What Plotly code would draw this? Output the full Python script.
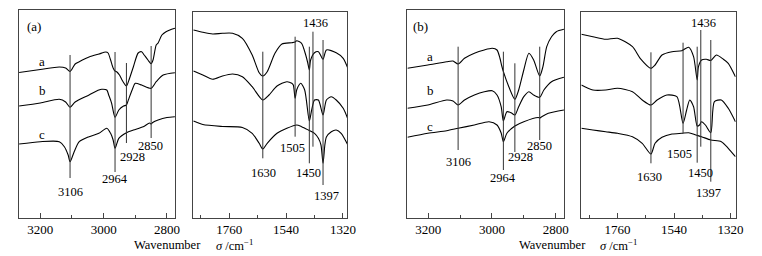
import plotly.graph_objects as go

# ---------------- data: (a) high wavenumber region ----------------
A1_WN_a = [3267,3200,3140,3120,3106,3090,3077,3046,3015,2993,2986,2978,2970,2964,2958,2950,2940,2928,2920,2906,2891,2880,2872,2860,2850,2844,2834,2828,2816,2803,2791,2775]
A1_T_a = [145.5,148.5,151,150,146.5,154,156.3,161,164,166,165,158,150,147,146,143,137,132,138,151.3,165,166.3,163,158,154.3,158,173,175,183,186.3,188,189.7]
A1_WN_b = [3267,3200,3140,3120,3106,3090,3046,3015,3006,2990,2984,2975,2964,2952,2937,2928,2922,2910,2900,2880,2850,2834,2812,2775]
A1_T_b = [112,115,118.7,116,110.7,116,123,128,128.7,128,123,115,100.7,108,112,113,118,128,134.7,133,129.7,136.3,143,145.3]
A1_WN_c = [3267,3200,3140,3124,3112,3106,3093,3077,3046,3015,2990,2978,2970,2964,2952,2928,2906,2875,2855,2850,2845,2828,2800,2775]
A1_T_c = [74,76.3,76.3,71.3,63,56.3,66.3,76.3,81.3,84.7,89.7,84.7,78,69.7,79.7,85.3,88,91.3,95,94,95.5,98,100.5,101.3]
A1_PEAKS = [3106, 2964, 2928, 2850]

# ---------------- data: (a) low wavenumber region ----------------
A2_WN_a = [1898,1862,1824,1786,1747,1709,1671,1644,1630,1613,1583,1556,1518,1505,1499,1480,1464,1456,1450,1445,1430,1415,1397,1384,1346,1319,1301]
A2_T_a = [188,185.7,184,184.7,184.7,179.7,163,145.3,142,146.3,164.7,174,175.3,176,177.3,174.7,163,155,148,158,165.3,166.3,158.7,168,165.3,159.7,149.7]
A2_WN_b = [1898,1862,1824,1786,1747,1709,1671,1630,1606,1575,1537,1518,1512,1505,1499,1490,1483,1468,1450,1441,1430,1415,1397,1384,1365,1346,1319,1301]
A2_T_b = [147,143,138.7,142,144,141.3,131.3,118,123,132,136.3,134.7,133,119.7,128,133,134.7,128,97,108,118,118,103,118,121.3,118,109.7,99]
A2_WN_c = [1898,1862,1786,1709,1671,1644,1630,1613,1575,1537,1499,1480,1454,1430,1415,1405,1397,1390,1384,1365,1346,1327,1301]
A2_T_c = [97,93.5,91.5,90.5,84.7,74.7,69,74.7,84.7,89.7,93,91.3,88,84.7,79.7,73,54.7,73,81,86.3,88,84.7,73]
A2_PEAKS = [1630, 1505, 1450, 1436, 1397]

# ---------------- data: (b) high wavenumber region ----------------
B1_WN_a = [3265,3201,3142,3122,3106,3086,3055,3024,2999,2984,2975,2969,2964,2947,2928,2916,2900,2884,2869,2850,2840,2828,2813,2798,2774]
B1_T_a = [149.7,153,156.3,157,154,159.7,164.7,168,169.7,168,160,152,146.3,131.3,118.7,128,148,164.7,158,142,151.3,171.3,181.3,186.3,188.7]
B1_WN_b = [3265,3201,3142,3122,3106,3086,3055,3024,2999,2984,2971,2964,2953,2940,2928,2916,2900,2884,2869,2850,2837,2813,2774]
B1_T_b = [109.7,113,118,117,113,118,123,126.3,127.3,123,111.3,97,106.3,105.3,103,111.3,121.3,126.3,123,120.7,128,136.3,140.7]
B1_WN_c = [3265,3201,3142,3106,3055,3009,2984,2971,2964,2953,2928,2900,2855,2850,2845,2823,2774]
B1_T_c = [80.7,84.7,87.3,89.7,93,96.3,93,85,76.3,84.7,92,96.3,100.5,100,101,104.7,108]
B1_PEAKS = [3106, 2964, 2928, 2850]

# ---------------- data: (b) low wavenumber region ----------------
B2_WN_a = [1901,1856,1806,1760,1702,1672,1630,1614,1587,1548,1510,1483,1464,1450,1445,1433,1414,1397,1375,1348,1329,1301]
B2_T_a = [183.7,181.3,178.7,179.7,171.3,159.7,149.7,153,163,166.3,167.3,170.7,161.3,138,151.3,158,158.7,157.5,163,158.7,154.7,141.3]
B2_WN_b = [1901,1856,1806,1760,1702,1664,1630,1606,1568,1529,1505,1491,1479,1464,1450,1441,1433,1418,1397,1383,1356,1329,1301]
B2_T_b = [133,128,128,129.7,126.3,118,113,118,123,121.3,94.7,108,118,111.3,92,93,96.3,93,85.3,116.3,118,109.7,96.3]
B2_WN_c = [1901,1856,1806,1760,1702,1664,1630,1614,1587,1548,1510,1483,1455,1433,1397,1356,1329,1301]
B2_T_c = [89.7,88,86.3,84.7,81.3,74.7,64,74.7,80.7,84,84.7,85.3,83,81.3,78,76.3,69.7,61.3]
B2_PEAKS = [1630, 1505, 1450, 1436, 1397]

CURVE_NAMES = ["a", "b", "c"]
HIGH_TICKS = [3200, 3000, 2800]
HIGH_MINOR = [3100, 2900]
LOW_TICKS = [1760, 1540, 1320]
LOW_MINOR = [1870, 1650, 1430]

# ---------------- layout helpers (positions, not data) ----------------
A1_LINE = ([163, 166, 155, 172], [40, 46, 75, 80])
A1_LAB = ([3106, 2964, 2909, 2851], [26.3, 39, 61, 72])
A2_LINE = ([166.3, 181.3, 171.3, 186.3, 178], [59.7, 81.3, 54.7, 71.3, 33])
A2_LAB = ([1626, 1515, 1455, 1425, 1385], [44.7, 69.7, 44.7, 194.7, 22])
B1_LINE = ([171.3, 166.3, 154.7, 171.3], [68, 48, 66, 78])
B1_LAB = ([3106, 2964, 2909, 2851], [55.7, 39.7, 61.3, 72.3])
B2_LINE = ([165.7, 175.3, 171.3, 188, 178], [54.7, 84.7, 55.3, 71.3, 36.3])
B2_LAB = ([1634, 1520, 1437, 1426, 1404], [41.3, 64, 44.7, 194.7, 25.3])

W, H = 762, 256
FONT = "'Liberation Serif', 'Times New Roman', Times, serif"

fig = go.Figure()
annotations = []

panels = [
    ("", [(A1_WN_a, A1_T_a), (A1_WN_b, A1_T_b), (A1_WN_c, A1_T_c)], A1_PEAKS, A1_LINE, A1_LAB,
     [3267, 2774], 19.3, 177.3, 10.3, HIGH_TICKS, HIGH_MINOR),
    ("2", [(A2_WN_a, A2_T_a), (A2_WN_b, A2_T_b), (A2_WN_c, A2_T_c)], A2_PEAKS, A2_LINE, A2_LAB,
     [1900, 1303], 195.3, 351.5, 11.5, LOW_TICKS, LOW_MINOR),
    ("3", [(B1_WN_a, B1_T_a), (B1_WN_b, B1_T_b), (B1_WN_c, B1_T_c)], B1_PEAKS, B1_LINE, B1_LAB,
     [3265, 2774], 412.3, 570.7, 10.3, HIGH_TICKS, HIGH_MINOR),
    ("4", [(B2_WN_a, B2_T_a), (B2_WN_b, B2_T_b), (B2_WN_c, B2_T_c)], B2_PEAKS, B2_LINE, B2_LAB,
     [1901, 1300], 588.3, 744.5, 11.5, LOW_TICKS, LOW_MINOR),
]

BOTTOM_PX = 217.7
for aid, curves, peaks, lines, labs, xr, pl, pr, pt, tv, mv in panels:
    xa, ya = "x" + aid, "y" + aid
    for wn, t in curves:
        fig.add_trace(go.Scatter(x=wn, y=t, mode="lines", xaxis=xa, yaxis=ya,
                                 line=dict(color="black", width=1.1, shape="spline", smoothing=0.7),
                                 hoverinfo="skip", showlegend=False))
    tops, bots = lines
    for p, t0, b0 in zip(peaks, tops, bots):
        fig.add_trace(go.Scatter(x=[p, p], y=[b0, t0], mode="lines", xaxis=xa, yaxis=ya,
                                 line=dict(color="#333333", width=1),
                                 hoverinfo="skip", showlegend=False))
    for p, lx, ly in zip(peaks, labs[0], labs[1]):
        annotations.append(dict(x=lx, y=ly, xref=xa, yref=ya, text=str(p), showarrow=False,
                                xanchor="center", yanchor="middle",
                                font=dict(family=FONT, size=12.5, color="black")))
    dom_x = [pl / W, pr / W]
    dom_y = [1 - BOTTOM_PX / H, 1 - pt / H]
    fig.update_layout(**{
        "xaxis" + aid: dict(domain=dom_x, range=xr, anchor=ya, showgrid=False, zeroline=False,
                            showline=True, mirror=True, linecolor="#444", linewidth=1,
                            tickvals=tv, ticks="inside", ticklen=5, tickcolor="#444",
                            minor=dict(tickvals=mv, ticks="inside", ticklen=2.5, tickcolor="#444"),
                            tickfont=dict(family=FONT, size=13, color="black")),
        "yaxis" + aid: dict(domain=dom_y, range=[0.3, 218 - pt], anchor=xa, showgrid=False,
                            zeroline=False, showline=True, mirror=True, linecolor="#444",
                            linewidth=1, showticklabels=False, ticks=""),
    })

# curve labels a, b, c and panel tags
for nm, ty in zip(CURVE_NAMES, [156.3, 127.3, 84]):
    annotations.append(dict(x=3194, y=ty, xref="x", yref="y", text=nm, showarrow=False,
                            xanchor="center", yanchor="middle",
                            font=dict(family=FONT, size=13, color="black")))
for nm, ty in zip(CURVE_NAMES, [161.3, 127.3, 92]):
    annotations.append(dict(x=3193, y=ty, xref="x3", yref="y3", text=nm, showarrow=False,
                            xanchor="center", yanchor="middle",
                            font=dict(family=FONT, size=13, color="black")))
annotations.append(dict(x=3219, y=191.3, xref="x", yref="y", text="(a)", showarrow=False,
                        xanchor="center", yanchor="middle",
                        font=dict(family=FONT, size=13, color="black")))
annotations.append(dict(x=3223, y=191.3, xref="x3", yref="y3", text="(b)", showarrow=False,
                        xanchor="center", yanchor="middle",
                        font=dict(family=FONT, size=13, color="black")))

# axis titles
for cx_w, cx_s in [(170, 237), (559, 626)]:
    annotations.append(dict(x=cx_w / W, y=1 - 245 / H, xref="paper", yref="paper",
                            text="Wavenumber", showarrow=False,
                            xanchor="center", yanchor="middle",
                            font=dict(family=FONT, size=12.5, color="black")))
    annotations.append(dict(x=cx_s / W, y=1 - 245 / H, xref="paper", yref="paper",
                            text="<i>σ</i> /cm<sup>−1</sup>", showarrow=False,
                            xanchor="center", yanchor="middle",
                            font=dict(family=FONT, size=12.5, color="black")))

fig.update_layout(width=W, height=H, margin=dict(l=0, r=0, t=0, b=0),
                  paper_bgcolor="white", plot_bgcolor="white", annotations=annotations,
                  hovermode=False)

fig.write_html("out.html", config={"displayModeBar": False, "staticPlot": True},
               post_script="document.body.style.margin='0';document.body.style.overflow='hidden';")
